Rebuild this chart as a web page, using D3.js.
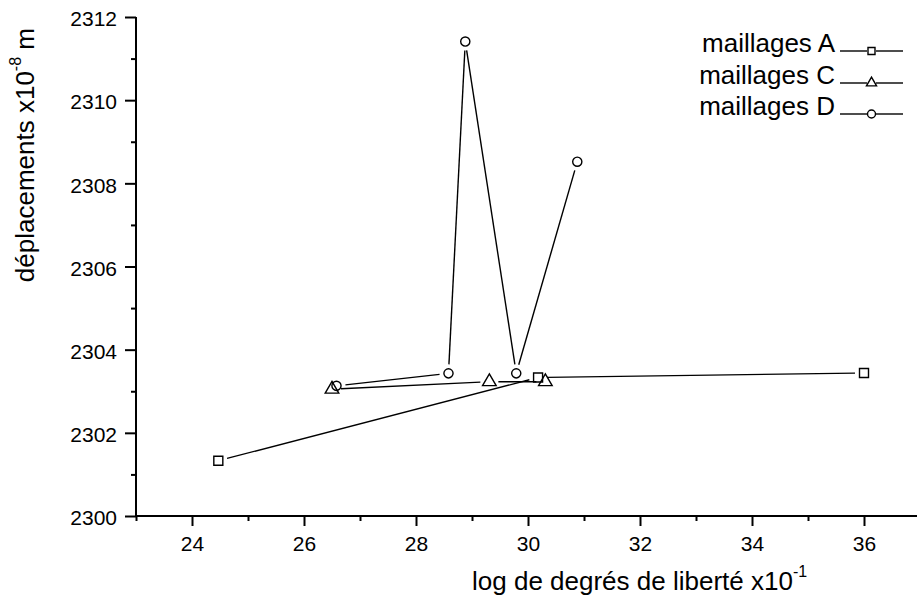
<!DOCTYPE html>
<html>
<head>
<meta charset="utf-8">
<script src="https://cdn.jsdelivr.net/npm/d3@7"></script>
<style>
    body { margin: 0; background: #fff; }
    text { font-family: "Liberation Sans", Arial, sans-serif; fill: #000; }
</style>
</head>
<body>
<div id="chart"></div>
<script>
// Data
const seriesNames = ["maillages A", "maillages C", "maillages D"];
const meshAx = [24.47, 30.18, 36.0];
const meshAy = [2301.33, 2303.33, 2303.44];
const meshCx = [26.5, 29.31, 30.31];
const meshCy = [2303.05, 2303.23, 2303.23];
const meshDx = [26.58, 28.58, 28.88, 29.79, 30.88];
const meshDy = [2303.13, 2303.43, 2311.41, 2303.43, 2308.52];
const xTicks = [24, 26, 28, 30, 32, 34, 36];
const yTicks = [2300, 2302, 2304, 2306, 2308, 2310, 2312];

const width = 917, height = 603;

const svg = d3.select("#chart").append("svg")
    .attr("width", width)
    .attr("height", height);

const x = d3.scaleLinear().domain([23, 37]).range([136, 920]);
const y = d3.scaleLinear().domain([2300, 2312]).range([516, 17]);

// Axes: minor ticks first, then major ticks with labels
const xMinor = svg.append("g").attr("transform", "translate(0,516)")
    .call(d3.axisBottom(x).tickValues(d3.range(23, 38, 2)).tickSize(5).tickFormat(""));
const xMajor = svg.append("g").attr("transform", "translate(0,516)")
    .call(d3.axisBottom(x).tickValues(xTicks).tickSize(10).tickPadding(10).tickFormat(d3.format("d")));
const yMinor = svg.append("g").attr("transform", "translate(136,0)")
    .call(d3.axisLeft(y).tickValues(d3.range(2301, 2312, 2)).tickSize(5).tickFormat(""));
const yMajor = svg.append("g").attr("transform", "translate(136,0)")
    .call(d3.axisLeft(y).tickValues(yTicks).tickSize(11).tickPadding(8).tickFormat(d3.format("d")));

[xMinor, xMajor, yMinor, yMajor].forEach(g => {
    g.select(".domain").attr("stroke", "#000").attr("stroke-width", 2);
    g.selectAll(".tick line").attr("stroke", "#000").attr("stroke-width", 2);
    g.selectAll(".tick text").attr("font-size", 21).attr("font-family", "Liberation Sans, Arial, sans-serif").attr("fill", "#000");
});
xMinor.select(".domain").attr("d", "M136,0H920");
xMajor.select(".domain").remove();
yMajor.select(".domain").remove();
yMinor.select(".domain").attr("d", "M0,17V516");
yMajor.selectAll(".tick text").attr("dy", "0.42em");

// Axis titles
const xTitle = svg.append("text")
    .attr("x", 472)
    .attr("y", 590)
    .attr("font-size", 26);
xTitle.append("tspan").text("log de degrés de liberté x10");
xTitle.append("tspan").attr("font-size", 16).attr("dy", -13).text("-1");

const yTitle = svg.append("text")
    .attr("transform", "translate(34,28) rotate(-90)")
    .attr("text-anchor", "end")
    .attr("font-size", 26);
yTitle.append("tspan").text("déplacements x10");
yTitle.append("tspan").attr("font-size", 16).attr("dy", -13).text("-8");
yTitle.append("tspan").attr("dy", 13).text(" m");

// Marker shapes
const symbolSquare = d3.symbol().type(d3.symbolSquare);
const symbolTriangle = d3.symbol().type(d3.symbolTriangle);
const symbolCircle = d3.symbol().type(d3.symbolCircle);

const series = [
    { name: seriesNames[0], xs: meshAx, ys: meshAy, sym: symbolSquare, size: 81, legSize: 49 },
    { name: seriesNames[1], xs: meshCx, ys: meshCy, sym: symbolTriangle, size: 80, legSize: 44 },
    { name: seriesNames[2], xs: meshDx, ys: meshDy, sym: symbolCircle, size: 66, legSize: 50 }
];

const gap = 9;

series.forEach(s => {
    const pts = s.xs.map((v, i) => [x(v), y(s.ys[i])]);
    const segs = d3.pairs(pts);
    // line segments stop short of the markers
    svg.append("g").selectAll("line")
        .data(segs)
        .enter()
        .append("line")
        .each(function (d) {
            const [a, b] = d;
            const len = Math.hypot(b[0] - a[0], b[1] - a[1]);
            const ux = (b[0] - a[0]) / len, uy = (b[1] - a[1]) / len;
            d3.select(this)
                .attr("x1", a[0] + ux * gap)
                .attr("y1", a[1] + uy * gap)
                .attr("x2", b[0] - ux * gap)
                .attr("y2", b[1] - uy * gap);
        })
        .attr("stroke", "#000")
        .attr("stroke-width", 1.4);

    svg.append("g").selectAll("path")
        .data(pts)
        .enter()
        .append("path")
        .attr("d", s.sym.size(s.size)())
        .attr("transform", d => `translate(${d[0]},${d[1]})`)
        .attr("fill", "none")
        .attr("stroke", "#000")
        .attr("stroke-width", 1.4);
});

// Legend
const legendY = [52, 84, 115];
series.forEach((s, i) => {
    const g = svg.append("g").attr("transform", `translate(0,${legendY[i]})`);
    g.append("text")
        .attr("x", 835)
        .attr("y", 0)
        .attr("text-anchor", "end")
        .attr("font-size", 26)
        .text(s.name);
    g.append("line").attr("x1", 840).attr("x2", 867).attr("y1", -1).attr("y2", -1)
        .attr("stroke", "#000").attr("stroke-width", 1.4);
    g.append("line").attr("x1", 876).attr("x2", 903).attr("y1", -1).attr("y2", -1)
        .attr("stroke", "#000").attr("stroke-width", 1.4);
    g.append("path")
        .attr("d", s.sym.size(s.legSize)())
        .attr("transform", "translate(871.5,-1)")
        .attr("fill", "none")
        .attr("stroke", "#000")
        .attr("stroke-width", 1.4);
});
</script>
</body>
</html>
